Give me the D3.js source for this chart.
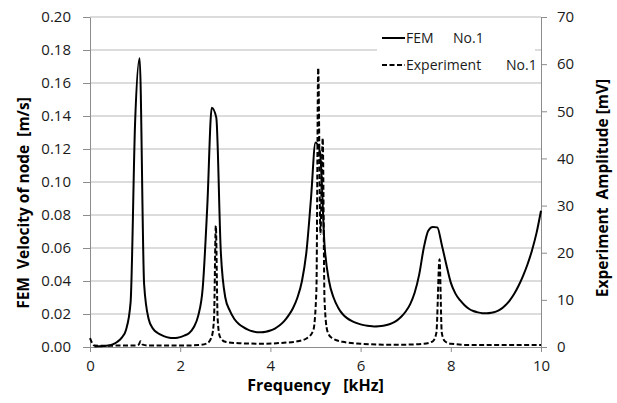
<!DOCTYPE html>
<html>
<head>
<meta charset="utf-8">
<script src="https://cdn.jsdelivr.net/npm/d3@7"></script>
<style>
  body { margin: 0; background: #fff; }
  svg text { font-family: "Open Sans", sans-serif; }
</style>
</head>
<body>
<div id="chart"></div>
<script>
// FEM result, velocity of node [m/s] vs frequency [kHz]
const femFreq = [0.1,0.2,0.3,0.4,0.5,0.6,0.7,0.8,0.9,1.0,1.1,1.2,1.3,1.4,1.5,1.6,1.7,1.8,1.9,2.0,
  2.1,2.2,2.3,2.4,2.5,2.6,2.7,2.8,2.9,3.0,3.1,3.2,3.3,3.4,3.5,3.6,3.7,3.8,3.9,4.0,
  4.1,4.2,4.3,4.4,4.5,4.6,4.7,4.8,4.9,5.0,5.1,5.2,5.3,5.4,5.5,5.6,5.7,5.8,5.9,6.0,
  6.1,6.2,6.3,6.4,6.5,6.6,6.7,6.8,6.9,7.0,7.1,7.2,7.3,7.4,7.5,7.6,7.7,7.8,7.9,8.0,
  8.1,8.2,8.3,8.4,8.5,8.6,8.7,8.8,8.9,9.0,9.1,9.2,9.3,9.4,9.5,9.6,9.7,9.8,9.9,10.0];
const femVel = [0.0003,0.0004,0.0006,0.0009,0.0015,0.003,0.0055,0.0105,0.027,0.136,0.175,0.038,0.017,0.011,0.0085,0.007,0.006,0.0055,0.0055,0.006,
  0.007,0.0085,0.012,0.019,0.036,0.085,0.145,0.139,0.058,0.030,0.022,0.017,0.014,0.012,0.0105,0.0095,0.009,0.009,0.0093,0.010,
  0.0112,0.013,0.0155,0.019,0.0235,0.030,0.040,0.058,0.090,0.124,0.118,0.062,0.040,0.030,0.024,0.020,0.0175,0.0158,0.0146,0.0137,
  0.0131,0.0127,0.0125,0.0126,0.0129,0.0135,0.0145,0.016,0.0183,0.0215,0.026,0.033,0.044,0.060,0.0705,0.0728,0.0725,0.062,0.050,0.039,
  0.0325,0.0285,0.0255,0.0232,0.0218,0.021,0.0205,0.0204,0.0207,0.0214,0.0228,0.025,0.028,0.032,0.037,0.043,0.050,0.0585,0.069,0.0826];

// Experiment, amplitude [mV]
const expFreq = [0.0,0.05,0.1,0.3,0.6,1.0,1.08,1.12,1.17,1.3,2.0,2.4,2.6,2.7,2.75,2.79,2.83,2.88,3.0,3.3,
  3.8,4.3,4.6,4.8,4.95,5.02,5.06,5.11,5.16,5.2,5.26,5.35,5.6,6.0,6.5,7.0,7.4,7.6,7.68,7.75,
  7.8,7.87,8.0,8.5,9.0,10.0];
const expAmp = [1.9,0.8,0.3,0.25,0.3,0.3,0.5,1.2,0.5,0.3,0.3,0.4,0.8,2.2,6,25.7,6,2.2,1.1,0.8,
  0.7,0.9,1.2,1.8,3.5,12,59.2,24,44.3,10,3.5,2,1.1,0.7,0.5,0.5,0.7,1.2,3,18.6,
  3,1.2,0.7,0.4,0.4,0.4];

const xTicks = [0,2,4,6,8,10];
const yTicks = [0,0.02,0.04,0.06,0.08,0.10,0.12,0.14,0.16,0.18,0.20];
const y2Ticks = [0,10,20,30,40,50,60,70];

const width = 617, height = 403,
  margin = ({ top: 17, right: 76, bottom: 56, left: 90 });

const svg = d3.select("#chart").append("svg")
  .attr("width", width).attr("height", height);

const x = d3.scaleLinear().domain([0, 10]).range([margin.left, width - margin.right]);
const y = d3.scaleLinear().domain([0, 0.2]).range([height - margin.bottom, margin.top]);
const y2 = d3.scaleLinear().domain([0, 70]).range([height - margin.bottom, margin.top]);

// gridlines
svg.append("g")
  .selectAll("line")
  .data(yTicks.slice(1))
  .join("line")
  .attr("x1", margin.left).attr("x2", width - margin.right)
  .attr("y1", d => y(d)).attr("y2", d => y(d))
  .attr("stroke", "#d0d0d0").attr("stroke-width", 1.3);

function styleAxis(g) {
  g.selectAll("path, line").attr("stroke", "#8c8c8c").attr("stroke-width", 1);
  g.selectAll("text").attr("fill", "#1a1a1a").style("font-size", "15px");
}

svg.append("g")
  .attr("transform", `translate(0,${height - margin.bottom})`)
  .call(d3.axisBottom(x).tickValues(xTicks).tickSize(5).tickSizeOuter(0).tickPadding(8))
  .call(styleAxis);

svg.append("g")
  .attr("transform", `translate(${margin.left},0)`)
  .call(d3.axisLeft(y).tickValues(yTicks).tickFormat(d3.format(".2f")).tickSize(7).tickSizeOuter(0).tickPadding(12))
  .call(styleAxis);

svg.append("g")
  .attr("transform", `translate(${width - margin.right},0)`)
  .call(d3.axisRight(y2).tickValues(y2Ticks).tickSize(6).tickSizeOuter(0).tickPadding(10))
  .call(styleAxis);

// series
const femLine = d3.line()
  .x((d, i) => x(femFreq[i]))
  .y(d => y(d))
  .curve(d3.curveMonotoneX);

const expLine = d3.line()
  .x((d, i) => x(expFreq[i]))
  .y(d => y2(d))
  .curve(d3.curveMonotoneX);

svg.append("path")
  .datum(expAmp)
  .attr("fill", "none")
  .attr("stroke", "#000")
  .attr("stroke-width", 2)
  .attr("stroke-dasharray", "5,2.5")
  .attr("d", expLine);

svg.append("path")
  .datum(femVel)
  .attr("fill", "none")
  .attr("stroke", "#000")
  .attr("stroke-width", 2)
  .attr("stroke-linejoin", "round")
  .attr("d", femLine);

// legend
const legend = svg.append("g");
legend.append("rect")
  .attr("x", 377).attr("y", 23).attr("width", 158).attr("height", 56)
  .attr("fill", "#fff");
legend.append("line")
  .attr("x1", 382).attr("x2", 405).attr("y1", 38).attr("y2", 38)
  .attr("stroke", "#000").attr("stroke-width", 2);
legend.append("line")
  .attr("x1", 382).attr("x2", 405).attr("y1", 65).attr("y2", 65)
  .attr("stroke", "#000").attr("stroke-width", 2).attr("stroke-dasharray", "5,2.5");
const legendText = [["FEM", 406, 38], ["No.1", 453, 38], ["Experiment", 406, 65], ["No.1", 506, 65]];
legend.selectAll("text")
  .data(legendText)
  .join("text")
  .attr("x", d => d[1]).attr("y", d => d[2])
  .attr("dy", "0.36em")
  .attr("fill", "#1a1a1a")
  .style("font-size", "14px")
  .text(d => d[0]);

// axis titles
svg.append("text")
  .attr("x", (margin.left + width - margin.right) / 2).attr("y", 391)
  .attr("text-anchor", "middle")
  .style("font-size", "16px").style("font-weight", "bold")
  .text("Frequency\u00a0\u00a0\u00a0[kHz]");

svg.append("text")
  .attr("transform", "translate(23,203) rotate(-90)")
  .attr("text-anchor", "middle").attr("dy", "0.36em")
  .style("font-size", "15.5px").style("font-weight", "bold")
  .text("FEM\u00a0\u00a0Velocity of node\u00a0\u00a0[m/s]");

svg.append("text")
  .attr("transform", "translate(602,188) rotate(-90)")
  .attr("text-anchor", "middle").attr("dy", "0.36em")
  .style("font-size", "15.5px").style("font-weight", "bold")
  .text("Experiment\u00a0\u00a0Amplitude [mV]");
</script>
</body>
</html>
